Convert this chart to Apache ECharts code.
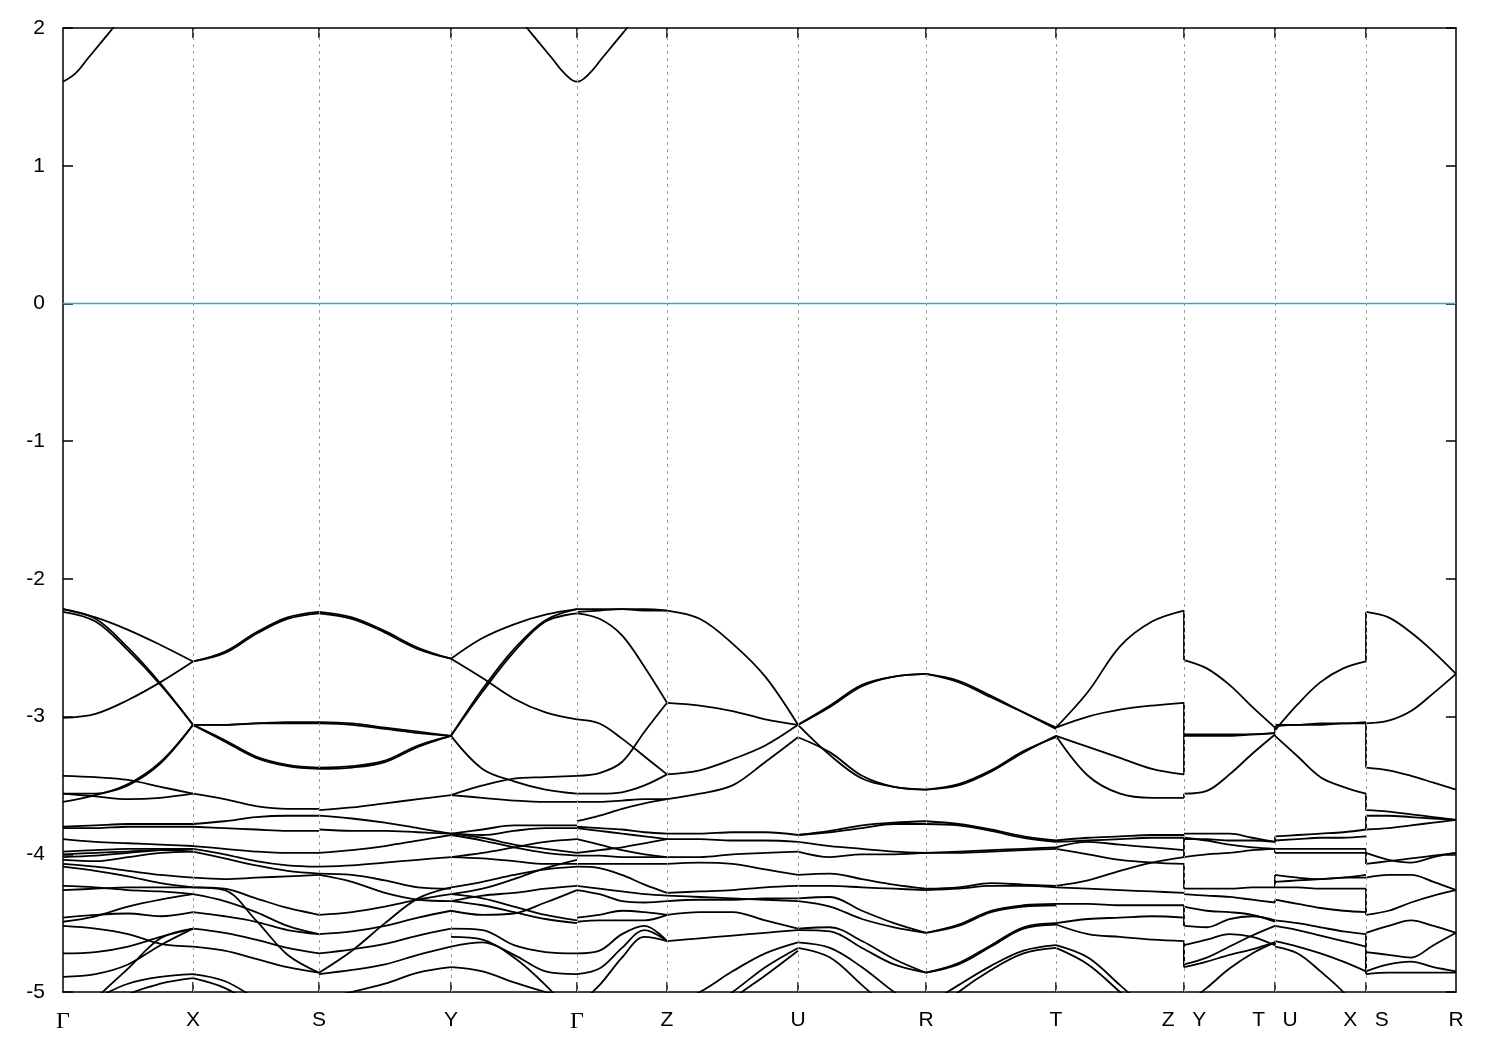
<!DOCTYPE html>
<html><head><meta charset="utf-8">
<script src="https://cdn.jsdelivr.net/npm/echarts@6/dist/echarts.min.js"></script>
<style>html,body{margin:0;padding:0;background:#fff}#c{width:1500px;height:1050px}</style>
</head><body><div id="c"></div>
<script>
// k-path positions of the high-symmetry points (arbitrary k units)
const kTicks = [0, 130, 256, 388, 514, 604, 735, 863, 993, 1121, 1212, 1303, 1393];
const kLabels = ['Γ', 'X', 'S', 'Y', 'Γ', 'Z', 'U', 'R', 'T', 'Z   Y', 'T   U', 'X   S', 'R'];
const yMin = -5, yMax = 2, yStep = 1;
const fermiLevel = 0;
// conduction band minimum around Γ, sampled every 12.5 k units away from Γ
const conductionStep = 12.5;
const conductionG = [1.61, 1.67, 1.78, 1.89, 2.0, 2.11];

// Energies (eV) of each band, sampled evenly along each path segment
const bandsGX = [
  [-2.22,-2.28,-2.37,-2.48,-2.60],[-2.22,-2.29,-2.50,-2.76,-3.06],[-2.24,-2.31,-2.52,-2.77,-3.06],
  [-3.01,-2.98,-2.88,-2.75,-2.60],[-3.56,-3.56,-3.49,-3.33,-3.06],[-3.62,-3.57,-3.50,-3.34,-3.06],
  [-3.43,-3.44,-3.46,-3.51,-3.56],[-3.56,-3.58,-3.60,-3.59,-3.56],
  [-3.80,-3.79,-3.78,-3.78,-3.78],[-3.81,-3.81,-3.80,-3.80,-3.80],[-3.89,-3.91,-3.92,-3.93,-3.94],
  [-3.98,-3.97,-3.96,-3.96,-3.96],[-4.00,-3.99,-3.98,-3.97,-3.98],[-4.02,-4.01,-3.99,-3.97,-3.96],
  [-4.04,-4.05,-4.02,-3.99,-3.98],[-4.07,-4.09,-4.12,-4.15,-4.17],[-4.09,-4.12,-4.16,-4.21,-4.24],
  [-4.23,-4.24,-4.26,-4.27,-4.29],[-4.26,-4.25,-4.24,-4.24,-4.24],[-4.46,-4.44,-4.43,-4.45,-4.42],
  [-4.49,-4.45,-4.38,-4.33,-4.29],[-4.52,-4.54,-4.58,-4.65,-4.67],[-4.72,-4.71,-4.67,-4.60,-4.54],
  [-4.89,-4.87,-4.80,-4.66,-4.54],[-5.30,-5.05,-4.83,-4.61,-4.54],[-5.20,-5.05,-4.94,-4.89,-4.87],
  [-5.40,-5.20,-5.02,-4.94,-4.90]
];
const bandsXS = [
  [-2.60,-2.53,-2.39,-2.28,-2.24],[-2.60,-2.54,-2.40,-2.29,-2.25],[-3.06,-3.06,-3.05,-3.05,-3.05],
  [-3.06,-3.06,-3.05,-3.04,-3.04],[-3.06,-3.17,-3.29,-3.35,-3.37],[-3.06,-3.18,-3.30,-3.36,-3.38],
  [-3.56,-3.60,-3.65,-3.67,-3.67],[-3.78,-3.76,-3.73,-3.72,-3.72],[-3.80,-3.81,-3.82,-3.83,-3.83],
  [-3.94,-3.96,-3.98,-3.99,-3.99],[-3.96,-4.00,-4.05,-4.08,-4.09],[-3.98,-4.03,-4.08,-4.12,-4.14],
  [-4.17,-4.18,-4.17,-4.16,-4.15],[-4.24,-4.25,-4.32,-4.39,-4.44],[-4.42,-4.45,-4.49,-4.55,-4.58],
  [-4.29,-4.34,-4.42,-4.52,-4.58],[-4.24,-4.26,-4.48,-4.73,-4.86],[-4.54,-4.57,-4.62,-4.68,-4.72],
  [-4.67,-4.70,-4.76,-4.82,-4.86],[-4.87,-4.92,-5.05,-5.20,-5.30],[-4.90,-4.97,-5.10,-5.25,-5.40]
];
const bandsSY = [
  [-2.24,-2.28,-2.38,-2.50,-2.58],[-2.25,-2.29,-2.39,-2.51,-2.58],[-3.05,-3.06,-3.09,-3.12,-3.14],
  [-3.04,-3.05,-3.08,-3.11,-3.14],[-3.37,-3.36,-3.32,-3.21,-3.14],[-3.38,-3.37,-3.33,-3.22,-3.14],
  [-3.68,-3.66,-3.63,-3.60,-3.57],[-3.72,-3.74,-3.77,-3.81,-3.85],[-3.82,-3.83,-3.83,-3.84,-3.85],
  [-3.99,-3.97,-3.94,-3.90,-3.86],[-4.09,-4.08,-4.06,-4.04,-4.02],[-4.14,-4.15,-4.19,-4.24,-4.25],
  [-4.15,-4.20,-4.28,-4.33,-4.34],[-4.44,-4.42,-4.38,-4.33,-4.29],[-4.86,-4.70,-4.50,-4.32,-4.24],
  [-4.58,-4.56,-4.52,-4.46,-4.41],[-4.72,-4.69,-4.65,-4.59,-4.54],[-4.87,-4.84,-4.80,-4.73,-4.67],
  [-5.05,-5.00,-4.94,-4.86,-4.82]
];
const bandsYG = [
  [-2.58,-2.43,-2.33,-2.26,-2.22],[-2.58,-2.72,-2.87,-2.97,-3.02],[-3.14,-2.80,-2.51,-2.30,-2.22],
  [-3.14,-2.82,-2.53,-2.31,-2.25],[-3.14,-3.38,-3.47,-3.53,-3.56],[-3.57,-3.50,-3.45,-3.44,-3.43],
  [-3.57,-3.59,-3.61,-3.62,-3.62],[-3.85,-3.82,-3.79,-3.79,-3.79],[-3.85,-3.86,-3.83,-3.81,-3.81],
  [-3.85,-3.88,-3.93,-3.96,-3.99],[-3.86,-3.90,-3.95,-3.99,-4.01],[-4.02,-4.03,-4.05,-4.07,-4.07],
  [-4.02,-3.99,-3.95,-3.91,-3.89],[-4.24,-4.20,-4.15,-4.11,-4.09],[-4.29,-4.25,-4.18,-4.10,-4.04],
  [-4.34,-4.37,-4.42,-4.47,-4.50],[-4.41,-4.44,-4.43,-4.35,-4.26],[-4.29,-4.32,-4.38,-4.44,-4.48],
  [-4.34,-4.30,-4.28,-4.25,-4.23],[-4.54,-4.55,-4.66,-4.71,-4.72],[-4.67,-4.64,-4.73,-4.85,-4.87],
  [-4.60,-4.62,-4.75,-4.95,-5.20],[-4.82,-4.85,-4.93,-5.00,-5.05]
];
const bandsGZ = [
  [-2.22,-2.22,-2.22,-2.23,-2.23],[-2.24,-2.23,-2.22,-2.22,-2.23],[-2.25,-2.29,-2.41,-2.64,-2.90],
  [-3.02,-3.05,-3.16,-3.29,-3.42],[-3.43,-3.41,-3.33,-3.11,-2.90],[-3.56,-3.56,-3.55,-3.50,-3.42],
  [-3.62,-3.62,-3.61,-3.60,-3.60],[-3.76,-3.72,-3.67,-3.63,-3.60],[-3.80,-3.81,-3.82,-3.84,-3.85],
  [-3.81,-3.83,-3.85,-3.87,-3.89],[-3.89,-3.93,-3.97,-4.00,-4.02],[-3.99,-3.97,-3.95,-3.92,-3.89],
  [-4.01,-4.01,-4.02,-4.02,-4.02],[-4.07,-4.07,-4.07,-4.07,-4.07],[-4.09,-4.10,-4.15,-4.22,-4.28],
  [-4.23,-4.25,-4.27,-4.29,-4.30],[-4.26,-4.29,-4.34,-4.35,-4.34],[-4.46,-4.44,-4.41,-4.42,-4.44],
  [-4.49,-4.48,-4.48,-4.48,-4.44],[-4.72,-4.70,-4.58,-4.52,-4.63],[-4.87,-4.83,-4.68,-4.55,-4.63],
  [-5.10,-4.95,-4.75,-4.60,-4.63]
];
const bandsZU = [
  [-2.23,-2.29,-2.47,-2.71,-3.06],[-2.90,-2.92,-2.96,-3.02,-3.06],[-3.42,-3.39,-3.31,-3.21,-3.06],
  [-3.60,-3.56,-3.50,-3.33,-3.15],[-3.85,-3.85,-3.84,-3.84,-3.86],[-3.89,-3.89,-3.90,-3.90,-3.91],
  [-4.02,-4.02,-4.00,-3.99,-3.98],[-4.07,-4.06,-4.07,-4.11,-4.15],[-4.28,-4.27,-4.26,-4.24,-4.23],
  [-4.30,-4.31,-4.32,-4.33,-4.34],[-4.34,-4.33,-4.33,-4.32,-4.32],[-4.44,-4.42,-4.42,-4.48,-4.54],
  [-4.63,-4.61,-4.59,-4.57,-4.55],[-5.10,-5.00,-4.85,-4.72,-4.64],[-5.30,-5.15,-5.00,-4.82,-4.68],
  [-5.40,-5.25,-5.05,-4.88,-4.70]
];
const bandsUR = [
  [-3.06,-2.92,-2.77,-2.71,-2.69],[-3.06,-2.93,-2.78,-2.71,-2.69],[-3.15,-3.26,-3.43,-3.51,-3.53],
  [-3.06,-3.28,-3.45,-3.51,-3.53],[-3.86,-3.83,-3.79,-3.77,-3.76],[-3.86,-3.84,-3.81,-3.78,-3.78],
  [-3.91,-3.94,-3.96,-3.98,-3.99],[-3.98,-4.02,-4.00,-4.00,-3.99],[-4.15,-4.14,-4.18,-4.22,-4.25],
  [-4.23,-4.23,-4.24,-4.25,-4.26],[-4.32,-4.31,-4.41,-4.50,-4.57],[-4.34,-4.38,-4.47,-4.53,-4.57],
  [-4.54,-4.53,-4.63,-4.76,-4.86],[-4.55,-4.56,-4.68,-4.80,-4.86],[-4.64,-4.68,-4.82,-5.00,-5.15],
  [-4.68,-4.75,-4.95,-5.15,-5.30]
];
const bandsRT = [
  [-2.69,-2.74,-2.85,-2.97,-3.09],[-2.69,-2.75,-2.86,-2.97,-3.08],[-3.53,-3.49,-3.39,-3.25,-3.15],
  [-3.53,-3.50,-3.40,-3.26,-3.14],[-3.76,-3.78,-3.82,-3.87,-3.90],[-3.78,-3.79,-3.83,-3.88,-3.91],
  [-3.99,-3.98,-3.97,-3.96,-3.95],[-3.99,-3.99,-3.98,-3.97,-3.96],[-4.25,-4.24,-4.21,-4.22,-4.23],
  [-4.26,-4.25,-4.23,-4.23,-4.24],[-4.57,-4.51,-4.41,-4.37,-4.36],[-4.57,-4.52,-4.42,-4.38,-4.37],
  [-4.86,-4.79,-4.66,-4.53,-4.50],[-4.86,-4.80,-4.67,-4.54,-4.51],[-5.10,-4.95,-4.81,-4.70,-4.66],
  [-5.20,-5.00,-4.84,-4.72,-4.68]
];
const bandsTZ = [
  [-3.08,-2.82,-2.49,-2.31,-2.23],[-3.08,-3.00,-2.95,-2.92,-2.90],[-3.14,-3.22,-3.30,-3.38,-3.42],
  [-3.14,-3.43,-3.56,-3.59,-3.59],[-3.90,-3.88,-3.87,-3.86,-3.86],[-3.91,-3.90,-3.89,-3.88,-3.88],
  [-3.95,-3.91,-3.93,-3.95,-3.97],[-3.96,-4.00,-4.04,-4.06,-4.07],[-4.23,-4.19,-4.12,-4.06,-4.02],
  [-4.24,-4.25,-4.26,-4.27,-4.28],[-4.36,-4.36,-4.37,-4.37,-4.37],[-4.50,-4.47,-4.46,-4.45,-4.46],
  [-4.51,-4.58,-4.60,-4.62,-4.63],[-4.66,-4.75,-4.95,-5.15,-5.30],[-4.68,-4.80,-5.00,-5.20,-5.40]
];
const bandsYT = [
  [-2.59,-2.65,-2.77,-2.93,-3.08],[-3.14,-3.14,-3.14,-3.13,-3.12],[-3.13,-3.13,-3.13,-3.13,-3.12],
  [-3.56,-3.54,-3.42,-3.27,-3.13],[-3.85,-3.85,-3.85,-3.88,-3.91],[-3.88,-3.90,-3.93,-3.95,-3.96],
  [-3.89,-3.89,-3.90,-3.90,-3.91],[-4.02,-4.00,-3.99,-3.97,-3.96],[-4.25,-4.25,-4.25,-4.24,-4.24],
  [-4.29,-4.30,-4.31,-4.33,-4.35],[-4.38,-4.41,-4.42,-4.44,-4.49],[-4.52,-4.53,-4.47,-4.45,-4.48],
  [-4.66,-4.62,-4.58,-4.60,-4.66],[-4.80,-4.75,-4.67,-4.59,-4.52],[-4.82,-4.78,-4.73,-4.69,-4.64],
  [-5.10,-4.97,-4.83,-4.72,-4.64]
];
const bandsUX = [
  [-3.10,-2.91,-2.75,-2.65,-2.60],[-3.07,-3.06,-3.06,-3.05,-3.05],[-3.06,-3.06,-3.05,-3.05,-3.04],
  [-3.14,-3.29,-3.44,-3.51,-3.56],[-3.87,-3.86,-3.85,-3.84,-3.82],[-3.90,-3.89,-3.88,-3.88,-3.87],
  [-3.96,-3.96,-3.96,-3.96,-3.96],[-3.99,-3.99,-3.99,-3.99,-3.99],[-4.15,-4.17,-4.18,-4.17,-4.17],
  [-4.20,-4.19,-4.18,-4.17,-4.15],[-4.24,-4.24,-4.25,-4.25,-4.25],[-4.33,-4.36,-4.39,-4.41,-4.42],
  [-4.48,-4.50,-4.53,-4.56,-4.58],[-4.52,-4.55,-4.59,-4.63,-4.67],[-4.63,-4.67,-4.72,-4.78,-4.85],
  [-4.67,-4.72,-4.85,-5.00,-5.20]
];
const bandsSR = [
  [-2.24,-2.28,-2.39,-2.53,-2.69],[-3.05,-3.03,-2.96,-2.83,-2.69],[-3.37,-3.39,-3.43,-3.48,-3.53],
  [-3.68,-3.69,-3.71,-3.73,-3.75],[-3.72,-3.72,-3.73,-3.74,-3.75],[-3.82,-3.81,-3.79,-3.77,-3.75],
  [-3.99,-4.04,-4.06,-4.02,-3.99],[-4.07,-4.05,-4.03,-4.01,-3.99],[-4.17,-4.15,-4.15,-4.20,-4.26],
  [-4.44,-4.41,-4.35,-4.30,-4.26],[-4.57,-4.52,-4.48,-4.52,-4.57],[-4.71,-4.73,-4.75,-4.66,-4.57],
  [-4.85,-4.80,-4.78,-4.82,-4.85],[-4.87,-4.86,-4.86,-4.86,-4.86]
];
// vertical jumps at discontinuous path points: [from, to] energies
const jumpsZY = [[-2.23,-2.59],[-2.90,-3.14],[-3.42,-3.14],[-3.59,-3.56],[-3.88,-4.02],[-4.07,-4.25],[-4.37,-4.52],[-4.63,-4.80],[-4.67,-4.82]];
const jumpsTU = [[-3.08,-3.10],[-3.12,-3.07],[-3.13,-3.14],[-3.91,-3.87],[-3.96,-3.99],[-4.24,-4.15],[-4.35,-4.33],[-4.49,-4.48],[-4.66,-4.63]];
const jumpsXS = [[-2.60,-2.24],[-3.05,-3.37],[-3.56,-3.68],[-3.82,-3.72],[-3.96,-4.07],[-4.25,-4.44],[-4.58,-4.87],[-4.85,-4.71]];

const segments = [bandsGX, bandsXS, bandsSY, bandsYG, bandsGZ, bandsZU, bandsUR, bandsRT, bandsTZ, bandsYT, bandsUX, bandsSR];
const jumpGroups = [[9, jumpsZY], [10, jumpsTU], [11, jumpsXS]];

const bandStyle = {color: '#000', width: 1.8};
const series = [];
// dashed vertical lines at high-symmetry points
series.push({
  type: 'line', data: [], silent: true, z: 1,
  markLine: {silent: true, symbol: 'none', label: {show: false}, animation: false,
    lineStyle: {color: '#9a9a9a', type: [3, 4], width: 1},
    data: kTicks.slice(1, -1).map(k => ({xAxis: k}))}
});
// Fermi level
series.push({type: 'line', data: [[kTicks[0], fermiLevel], [kTicks[kTicks.length - 1], fermiLevel]],
  symbol: 'none', silent: true, z: 2, lineStyle: {color: '#3b9fd8', width: 1.6}});
function addCurve(pts, smooth) {
  series.push({type: 'line', data: pts, symbol: 'none', smooth: smooth, silent: true, z: 3,
    clip: true, lineStyle: bandStyle, animation: false});
}
segments.forEach((bands, i) => {
  const k0 = kTicks[i], k1 = kTicks[i + 1];
  bands.forEach(b => addCurve(b.map((e, j) => [k0 + (k1 - k0) * j / (b.length - 1), e]), 0.35));
});
jumpGroups.forEach(([ti, list]) => list.forEach(([a, b]) => addCurve([[kTicks[ti], a], [kTicks[ti], b]], false)));
// conduction band around Γ (both Γ points of the path)
addCurve(conductionG.map((e, j) => [kTicks[0] + conductionStep * j, e]), 0.4);
addCurve(conductionG.slice().reverse().map((e, j) => [kTicks[4] - conductionStep * (conductionG.length - 1 - j), e])
  .concat(conductionG.slice(1).map((e, j) => [kTicks[4] + conductionStep * (j + 1), e])), 0.4);

const axisLine = {show: true, onZero: false, lineStyle: {color: '#000', width: 1.5}};
const chart = echarts.init(document.getElementById('c'), null, {renderer: 'canvas'});
chart.setOption({
  animation: false,
  backgroundColor: '#fff',
  grid: {left: 63, right: 44, top: 28, bottom: 58},
  xAxis: [{
    type: 'value', min: kTicks[0], max: kTicks[kTicks.length - 1], position: 'bottom',
    axisLine: axisLine, splitLine: {show: false},
    axisTick: {show: true, inside: true, length: 10, customValues: kTicks.slice(1, -1), lineStyle: {color: '#000', width: 1.5}},
    axisLabel: {show: true, customValues: kTicks, margin: 18, color: '#000', fontSize: 21, fontFamily: 'Liberation Sans',
      formatter: v => { const s = kLabels[kTicks.indexOf(v)]; return s === 'Γ' ? '{g|Γ}' : s; },
      rich: {g: {fontFamily: 'Liberation Serif', fontSize: 24, color: '#000'}}}
  }, {
    type: 'value', min: kTicks[0], max: kTicks[kTicks.length - 1], position: 'top',
    axisLine: axisLine, splitLine: {show: false}, axisLabel: {show: false},
    axisTick: {show: true, inside: true, length: 10, customValues: kTicks.slice(1, -1), lineStyle: {color: '#000', width: 1.5}}
  }],
  yAxis: [{
    type: 'value', min: yMin, max: yMax, interval: yStep, position: 'left',
    axisLine: axisLine, splitLine: {show: false},
    axisTick: {show: true, inside: true, length: 10, lineStyle: {color: '#000', width: 1.5}},
    axisLabel: {show: true, margin: 18, color: '#000', fontSize: 21, fontFamily: 'Liberation Sans'}
  }, {
    type: 'value', min: yMin, max: yMax, interval: yStep, position: 'right',
    axisLine: axisLine, splitLine: {show: false}, axisLabel: {show: false},
    axisTick: {show: true, inside: true, length: 10, lineStyle: {color: '#000', width: 1.5}}
  }],
  series: series
});
</script></body></html>
